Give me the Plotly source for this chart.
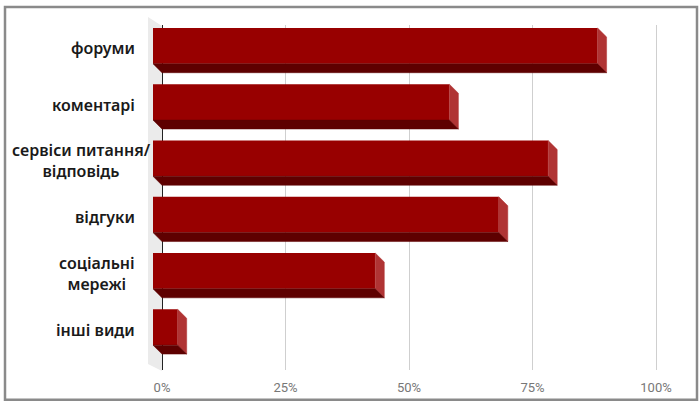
import plotly.graph_objects as go

# ---- data ----
categories = ["форуми", "коментарі", "сервіси питання/\nвідповідь", "відгуки", "соціальні\nмережі", "інші види"]
values = [90, 60, 80, 70, 45, 5]
tick_vals = [0, 25, 50, 75, 100]
tick_text = ["0%", "25%", "50%", "75%", "100%"]

# ---- layout geometry (pixels) ----
W, H = 700, 407
L, R = 145, 680          # plot area left/right
T, B = 25, 372           # plot area top/bottom
X0PX, PXPER = 162, 4.94  # px of value 0, px per 1 %
ROW, Y0PX = 56.6, 50.5   # px per category, px centre of first category
DEPTH = 9                # 3D depth in px

x_range = [(L - X0PX) / PXPER, (R - X0PX) / PXPER]
y_range = [(B - Y0PX) / ROW, (T - Y0PX) / ROW]
dx = DEPTH / PXPER
dy = DEPTH / ROW
half = 22.5 / ROW


def px2paper_x(px):
    return (px - L) / (R - L)


def px2paper_y(py):
    return (B - py) / (B - T)


idx = list(range(len(categories)))
front_top = [i - half for i in idx]
front_bot = [i + half - dy for i in idx]

FRONT = "#980000"
SIDE = "#b03434"
BOTTOM = "#5e0000"

fig = go.Figure()

# front faces
fig.add_trace(go.Bar(
    orientation="h",
    y=[(ft + fb) / 2 for ft, fb in zip(front_top, front_bot)],
    x=values,
    base=-dx,
    width=front_bot[0] - front_top[0],
    marker=dict(color=FRONT, line=dict(width=0)),
    hoverinfo="skip",
    showlegend=False,
))

# right side and bottom faces
sx, sy = [], []
bx, by = [], []
for v, ft, fb in zip(values, front_top, front_bot):
    sx += [v - dx, v, v, v - dx, v - dx, None]
    sy += [ft, ft + dy, fb + dy, fb, ft, None]
    bx += [-dx, v - dx, v, 0, -dx, None]
    by += [fb, fb, fb + dy, fb + dy, fb, None]

fig.add_trace(go.Scatter(x=sx, y=sy, mode="lines", fill="toself", fillcolor=SIDE,
                         line=dict(width=0.5, color=SIDE), hoverinfo="skip", showlegend=False))
fig.add_trace(go.Scatter(x=bx, y=by, mode="lines", fill="toself", fillcolor=BOTTOM,
                         line=dict(width=0.5, color=BOTTOM), hoverinfo="skip", showlegend=False))

# category labels
label_font = dict(family="Noto Sans", size=16, color="#1a1a1a", weight=600)
label_right_px = {2: 153}
annotations = []
for i, lab in enumerate(categories):
    yc = Y0PX + i * ROW - 2
    annotations.append(dict(text=lab.replace("\n", "<br>"), xref="paper", yref="paper",
                            x=px2paper_x(label_right_px.get(i, 137)), y=px2paper_y(yc),
                            xanchor="right", yanchor="middle", align="center",
                            showarrow=False, font=label_font))

shapes = [
    # left wall
    dict(type="path", xref="paper", yref="paper", layer="below",
         path=("M {a},{b} L {c},{d} L {c},{e} L {a},{f} Z").format(
             a=px2paper_x(148), b=px2paper_y(17), c=px2paper_x(162), d=px2paper_y(26),
             e=px2paper_y(373), f=px2paper_y(366)),
         fillcolor="#ebebeb", line=dict(width=0)),
    # outer border
    dict(type="rect", xref="paper", yref="paper",
         x0=px2paper_x(5), x1=px2paper_x(697), y0=px2paper_y(402), y1=px2paper_y(7),
         line=dict(color="#8a8a8a", width=2.5), fillcolor="rgba(0,0,0,0)"),
]

fig.update_layout(
    width=W, height=H,
    margin=dict(l=L, r=W - R, t=T, b=H - B, pad=0),
    paper_bgcolor="white", plot_bgcolor="rgba(0,0,0,0)",
    barmode="overlay",
    annotations=annotations,
    shapes=shapes,
    xaxis=dict(range=x_range, tickvals=tick_vals, ticktext=tick_text,
               showgrid=True, gridcolor="#cfcfcf", gridwidth=1,
               zeroline=True, zerolinecolor="#222222", zerolinewidth=1,
               showline=False, ticks="", ticklabelstandoff=8,
               tickfont=dict(family="Roboto", size=13, color="#777777"),
               fixedrange=True),
    yaxis=dict(range=y_range, showticklabels=False, showgrid=False,
               zeroline=False, showline=False, fixedrange=True),
    showlegend=False,
)

fig.write_html("out.html", config={"displayModeBar": False},
               post_script="document.body.style.margin='0';document.body.style.overflow='hidden';")
